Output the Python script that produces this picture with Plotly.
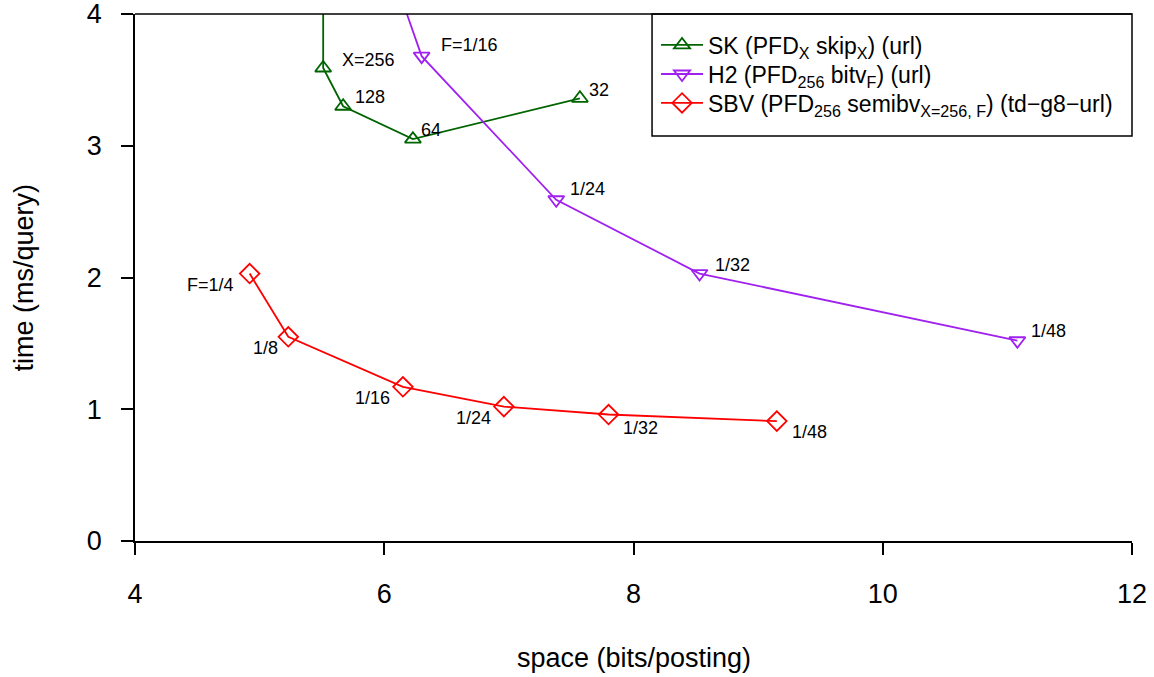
import plotly.graph_objects as go

# ---------------- data ----------------
sk_space = [5.51, 5.51, 5.67, 6.23, 7.57]
sk_time = [4.90, 3.59, 3.30, 3.05, 3.36]
sk_labels = ["", "X=256", "128", "64", "32"]

h2_space = [5.96, 6.30, 7.38, 8.53, 11.08]
h2_time = [4.60, 3.68, 2.59, 2.03, 1.52]
h2_labels = ["", "F=1/16", "1/24", "1/32", "1/48"]

sbv_space = [4.92, 5.23, 6.15, 6.96, 7.80, 9.15]
sbv_time = [2.03, 1.55, 1.17, 1.02, 0.96, 0.91]
sbv_labels = ["F=1/4", "1/8", "1/16", "1/24", "1/32", "1/48"]

x_ticks = [4, 6, 8, 10, 12]
y_ticks = [0, 1, 2, 3, 4]

names = [
    "SK (PFD<sub>X</sub> skip<sub>X</sub>) (url)",
    "H2 (PFD<sub>256</sub> bitv<sub>F</sub>) (url)",
    "SBV (PFD<sub>256</sub> semibv<sub>X=256, F</sub>) (td\u2212g8\u2212url)",
]

# ---------------- style ----------------
FONT = "Liberation Sans, Arial, sans-serif"
GREEN = "#006400"
PURPLE = "#A020F0"
RED = "#FF0000"
AXF = 27
LGF = 23

fig = go.Figure()
fig.add_trace(go.Scatter(x=sk_space, y=sk_time, mode="lines+markers", name=names[0],
                         legend="legend",
                         line=dict(color=GREEN, width=1.8),
                         marker=dict(symbol="triangle-up-open", size=14, color=GREEN,
                                     line=dict(width=1.8, color=GREEN))))
fig.add_trace(go.Scatter(x=h2_space, y=h2_time, mode="lines+markers", name=names[1],
                         legend="legend2",
                         line=dict(color=PURPLE, width=1.8),
                         marker=dict(symbol="triangle-down-open", size=14, color=PURPLE,
                                     line=dict(width=1.8, color=PURPLE))))
fig.add_trace(go.Scatter(x=sbv_space, y=sbv_time, mode="lines+markers", name=names[2],
                         legend="legend3",
                         line=dict(color=RED, width=1.8),
                         marker=dict(symbol="diamond-open", size=15, color=RED,
                                     line=dict(width=1.8, color=RED))))

annotations = []
LBL = 18
sk_off = [(0, 0), (17, 8), (10, 9), (6, 9), (7, 8)]
for xv, yv, t, (dx, dy) in zip(sk_space, sk_time, sk_labels, sk_off):
    if t:
        annotations.append(dict(x=xv, y=yv, text=t, showarrow=False, xanchor="left",
                                yanchor="middle", xshift=dx, yshift=dy,
                                font=dict(size=LBL, color="black", family=FONT)))
h2_off = [(0, 0), (17, 11), (12, 11), (13, 9), (12, 10)]
for xv, yv, t, (dx, dy) in zip(h2_space, h2_time, h2_labels, h2_off):
    if t:
        annotations.append(dict(x=xv, y=yv, text=t, showarrow=False, xanchor="left",
                                yanchor="middle", xshift=dx, yshift=dy,
                                font=dict(size=LBL, color="black", family=FONT)))
sbv_off = [("right", -14, -11), ("right", -8, -11), ("right", -11, -11),
           ("right", -11, -11), ("left", 12, -13), ("left", 13, -11)]
for xv, yv, t, (anc, dx, dy) in zip(sbv_space, sbv_time, sbv_labels, sbv_off):
    annotations.append(dict(x=xv, y=yv, text=t, showarrow=False, xanchor=anc,
                            yanchor="middle", xshift=dx, yshift=dy,
                            font=dict(size=LBL, color="black", family=FONT)))

# axis titles
annotations.append(dict(x=0.5, y=0, xref="paper", yref="paper", text="space (bits/posting)",
                        showarrow=False, xanchor="center", yanchor="middle", yshift=-117,
                        font=dict(size=AXF, color="black", family=FONT)))
annotations.append(dict(x=0, y=0.5, xref="paper", yref="paper", text="time (ms/query)",
                        showarrow=False, xanchor="center", yanchor="middle", xshift=-112,
                        textangle=-90, font=dict(size=AXF, color="black", family=FONT)))

shapes = [
    dict(type="line", xref="paper", yref="paper", x0=0, x1=1, y0=1, y1=1,
         line=dict(color="black", width=1.5)),
    dict(type="rect", xref="paper", yref="paper", x0=0.5186, x1=1.0, y0=0.7685, y1=1.0,
         line=dict(color="black", width=1.5), fillcolor="rgba(0,0,0,0)"),
]

axis_common = dict(showgrid=False, zeroline=False, showline=True, linecolor="black",
                   linewidth=1.5, ticks="outside", ticklen=12, tickwidth=1.5,
                   tickcolor="black", tickfont=dict(size=AXF, color="black", family=FONT),
                   mirror=False, automargin=False, ticklabeloverflow="allow")


def leg(yc):
    return dict(x=0.5226, y=yc, xanchor="left", yanchor="middle",
                bgcolor="rgba(0,0,0,0)", borderwidth=0,
                font=dict(size=LGF, color="black", family=FONT), itemwidth=42)


fig.update_layout(
    width=1154, height=677,
    margin=dict(l=135, r=22, t=14, b=136, autoexpand=False),
    paper_bgcolor="white", plot_bgcolor="white",
    font=dict(family=FONT, color="black"),
    xaxis=dict(range=[4, 12], tickvals=x_ticks, ticktext=[str(v) for v in x_ticks],
               ticklabelstandoff=16, **axis_common),
    yaxis=dict(range=[0, 4], tickvals=y_ticks, ticktext=[str(v) for v in y_ticks],
               ticklabelstandoff=14, **axis_common),
    showlegend=True,
    legend=leg(0.9412),
    legend2=leg(0.8861),
    legend3=leg(0.8311),
    annotations=annotations,
    shapes=shapes,
)

fig.write_html("out.html")
